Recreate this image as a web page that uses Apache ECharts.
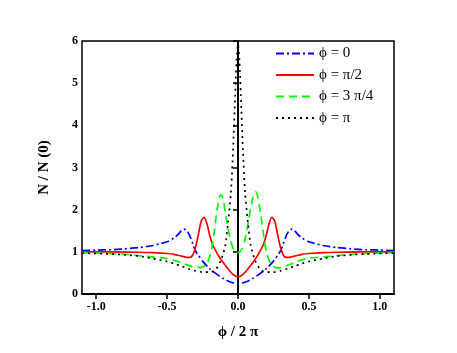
<!DOCTYPE html>
<html>
<head>
<meta charset="utf-8">
<script src="https://cdn.jsdelivr.net/npm/echarts@6/dist/echarts.min.js"></script>
<style>
  html, body { margin: 0; padding: 0; background: #fff; }
  #chart { width: 457px; height: 353px; }
</style>
</head>
<body>
<div id="chart"></div>
<script>
// phi = 0
var blueX = [-1.1, -1.0, -0.9, -0.8, -0.7, -0.6, -0.5, -0.45, -0.42, -0.4, -0.38, -0.36, -0.34, -0.32, -0.3, -0.28, -0.25, -0.2, -0.15, -0.1, -0.05, 0,
  0.05, 0.1, 0.15, 0.2, 0.25, 0.28, 0.3, 0.32, 0.34, 0.36, 0.38, 0.4, 0.42, 0.45, 0.5, 0.6, 0.7, 0.8, 0.9, 1.0, 1.1]
var blueY = [1.03, 1.04, 1.05, 1.07, 1.10, 1.15, 1.24, 1.33, 1.42, 1.50, 1.54, 1.50, 1.38, 1.20, 1.02, 0.92, 0.78, 0.60, 0.47, 0.36, 0.28, 0.25,
  0.28, 0.36, 0.47, 0.60, 0.78, 0.92, 1.02, 1.20, 1.38, 1.50, 1.54, 1.50, 1.42, 1.33, 1.24, 1.15, 1.10, 1.07, 1.05, 1.04, 1.03]

// phi = pi/2
var redX = [-1.1, -0.9, -0.7, -0.6, -0.5, -0.45, -0.4, -0.36, -0.34, -0.32, -0.3, -0.28, -0.26, -0.24, -0.22, -0.2, -0.18, -0.15, -0.12, -0.09, -0.06, -0.03, 0,
  0.03, 0.06, 0.09, 0.12, 0.15, 0.18, 0.2, 0.22, 0.24, 0.26, 0.28, 0.3, 0.32, 0.34, 0.36, 0.4, 0.45, 0.5, 0.6, 0.7, 0.9, 1.1]
var redY = [1.00, 1.00, 0.99, 0.98, 0.96, 0.94, 0.90, 0.87, 0.87, 0.92, 1.10, 1.40, 1.72, 1.82, 1.68, 1.40, 1.18, 0.98, 0.82, 0.68, 0.55, 0.45, 0.41,
  0.45, 0.55, 0.68, 0.82, 0.98, 1.18, 1.40, 1.68, 1.82, 1.72, 1.40, 1.10, 0.92, 0.87, 0.87, 0.90, 0.94, 0.96, 0.98, 0.99, 1.00, 1.00]

// phi = 3pi/4
var greenX = [-1.1, -0.9, -0.8, -0.7, -0.6, -0.5, -0.45, -0.4, -0.35, -0.3, -0.26, -0.22, -0.19, -0.17, -0.15, -0.13, -0.12, -0.105, -0.09, -0.07, -0.05, -0.03, 0,
  0.03, 0.05, 0.07, 0.09, 0.11, 0.125, 0.14, 0.16, 0.18, 0.2, 0.23, 0.27, 0.31, 0.35, 0.4, 0.45, 0.5, 0.6, 0.7, 0.8, 0.9, 1.1]
var greenY = [0.98, 0.96, 0.94, 0.91, 0.88, 0.84, 0.80, 0.74, 0.68, 0.63, 0.63, 0.72, 1.00, 1.40, 1.95, 2.30, 2.36, 2.25, 1.95, 1.55, 1.25, 1.05, 0.98,
  1.08, 1.30, 1.65, 2.05, 2.35, 2.42, 2.30, 1.90, 1.40, 1.00, 0.72, 0.62, 0.63, 0.68, 0.75, 0.81, 0.85, 0.88, 0.91, 0.94, 0.96, 0.98]

// phi = pi
var blackX = [-1.1, -0.9, -0.8, -0.7, -0.6, -0.5, -0.45, -0.4, -0.35, -0.3, -0.25, -0.2, -0.16, -0.12, -0.09, -0.07, -0.05, -0.035, -0.02, -0.01, 0,
  0.01, 0.02, 0.035, 0.05, 0.07, 0.09, 0.12, 0.16, 0.2, 0.25, 0.3, 0.35, 0.4, 0.45, 0.5, 0.6, 0.7, 0.8, 0.9, 1.1]
var blackY = [0.97, 0.95, 0.93, 0.90, 0.84, 0.77, 0.72, 0.66, 0.60, 0.55, 0.52, 0.52, 0.57, 0.80, 1.15, 1.70, 2.40, 3.40, 4.70, 5.55, 5.92,
  5.55, 4.70, 3.40, 2.40, 1.70, 1.15, 0.80, 0.57, 0.52, 0.52, 0.55, 0.60, 0.66, 0.72, 0.77, 0.84, 0.90, 0.93, 0.95, 0.97]

var xTicks = [-1.0, -0.5, 0.0, 0.5, 1.0]
var names = ['\u03d5 = 0', '\u03d5 = \u03c0/2', '\u03d5 = 3 \u03c0/4', '\u03d5 = \u03c0']

function pairs (xs, ys) {
  return xs.map(function (x, i) { return [x, ys[i]] })
}

var serif = 'Liberation Serif'
var chart = echarts.init(document.getElementById('chart'))

function mkSeries (name, xs, ys, color, type) {
  return {
    name: name,
    type: 'line',
    data: pairs(xs, ys),
    smooth: 0.25,
    symbol: 'none',
    lineStyle: { color: color, width: 1.7, type: type },
    itemStyle: { color: color }
  }
}

chart.setOption({
  animation: false,
  grid: {
    left: 82, right: 63, top: 41, bottom: 59,
    show: true, borderColor: '#000', borderWidth: 1.5
  },
  legend: {
    orient: 'vertical',
    left: 275, top: 46,
    padding: 0,
    itemWidth: 38, itemHeight: 14, itemGap: 6.5,
    itemStyle: { opacity: 0, borderWidth: 0 },
    textStyle: { fontFamily: serif, fontSize: 15, color: '#000', lineHeight: 14 },
    data: names
  },
  xAxis: {
    type: 'value',
    min: -1.1, max: 1.1,
    name: '\u03d5 / 2 \u03c0',
    nameLocation: 'middle',
    nameGap: 31,
    nameTextStyle: { fontFamily: serif, fontSize: 15, fontWeight: 'bold', color: '#000' },
    splitLine: { show: false },
    axisLine: { onZero: false, lineStyle: { color: '#000', width: 2 } },
    axisTick: { customValues: xTicks, length: 5, lineStyle: { color: '#000', width: 1.5 } },
    axisLabel: {
      customValues: xTicks,
      formatter: function (v) { return v.toFixed(1) },
      fontFamily: serif, fontSize: 12, fontWeight: 'bold', color: '#000', margin: 7
    }
  },
  yAxis: {
    type: 'value',
    min: 0, max: 6, interval: 1,
    name: 'N / N (0)',
    nameLocation: 'middle',
    nameGap: 30,
    nameTextStyle: { fontFamily: serif, fontSize: 15, fontWeight: 'bold', color: '#000' },
    splitLine: { show: false },
    axisLine: { lineStyle: { color: '#000', width: 2 } },
    axisTick: { length: 5, lineStyle: { color: '#000', width: 1.5 } },
    axisLabel: { fontFamily: serif, fontSize: 12, fontWeight: 'bold', color: '#000', margin: 4 }
  },
  series: [
    mkSeries(names[0], blueX, blueY, '#0000ff', [8, 3, 2, 3]),
    mkSeries(names[1], redX, redY, '#ff0000', 'solid'),
    mkSeries(names[2], greenX, greenY, '#00ff00', [8, 5]),
    mkSeries(names[3], blackX, blackY, '#000000', [2, 4])
  ]
})
</script>
</body>
</html>
